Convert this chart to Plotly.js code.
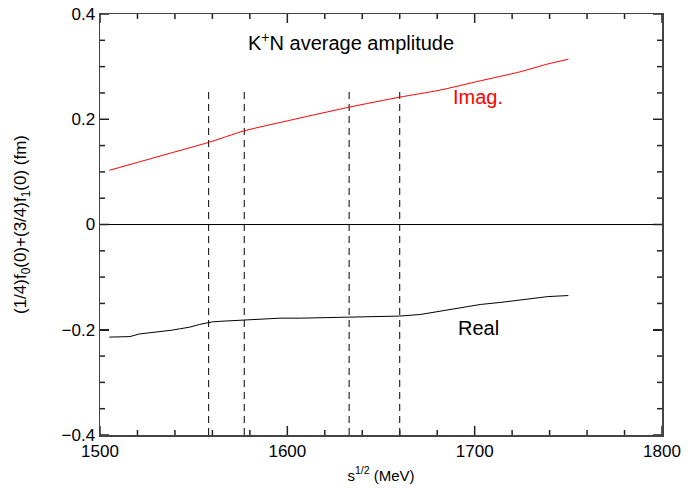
<!DOCTYPE html>
<html><head><meta charset="utf-8">
<script src="https://cdn.plot.ly/plotly-3.0.1.min.js"></script>
<style>html,body{margin:0;padding:0;background:#fff}#chart{width:688px;height:488px}</style>
</head><body><div id="chart"></div>
<script>
var imagX = [1505,1520,1540,1558,1577,1600,1633,1660,1681,1703,1724,1739,1750];
var imagY = [0.103,0.118,0.138,0.156,0.178,0.197,0.223,0.242,0.255,0.273,0.290,0.305,0.314];
var realX = [1505,1511,1516,1521,1527,1532,1538,1543,1548,1553,1556,1558,1560,1564,1570,1577,1585,1596,1607,1617,1625,1633,1641,1650,1660,1671,1681,1692,1703,1714,1724,1732,1739,1750];
var realY = [-0.214,-0.214,-0.213,-0.208,-0.206,-0.203,-0.201,-0.198,-0.195,-0.190,-0.188,-0.187,-0.185,-0.184,-0.183,-0.181,-0.180,-0.178,-0.178,-0.177,-0.177,-0.176,-0.175,-0.174,-0.174,-0.171,-0.165,-0.158,-0.152,-0.148,-0.144,-0.141,-0.137,-0.135];
var dashX = [1558,1577,1633,1660];
var dashTop = 0.253;
var xMin = 1500, xMax = 1800, yMin = -0.4, yMax = 0.4;
var xMajorTicks = [1500,1600,1700,1800];
var xMinorTicks = [1520,1540,1560,1580,1620,1640,1660,1680,1720,1740,1760,1780];
var yMajorTicks = [-0.4,-0.2,0,0.2,0.4];
var yMinorTicks = [-0.35,-0.3,-0.25,-0.15,-0.1,-0.05,0.05,0.1,0.15,0.25,0.3,0.35];

var W = 688, H = 488, M = {l:100, r:26, t:14, b:53};
var pxPerX = (W - M.l - M.r) / (xMax - xMin);
var pxPerY = (H - M.t - M.b) / (yMax - yMin);

var traces = [];
dashX.forEach(function(v){
  traces.push({x:[v,v], y:[yMin,dashTop], mode:'lines', line:{color:'#000', width:1, dash:'7px,5px'}, hoverinfo:'skip', showlegend:false});
});
traces.push({x:imagX, y:imagY, mode:'lines', line:{color:'#ff0000', width:1, shape:'spline', smoothing:0.6}, showlegend:false});
traces.push({x:realX, y:realY, mode:'lines', line:{color:'#000', width:1}, showlegend:false});

// axis tick marks (inside, mirrored), one trace per tick
function addSeg(xs, ys){
  traces.push({x:xs, y:ys, mode:'lines', line:{color:'#222', width:1.5}, hoverinfo:'skip', showlegend:false, cliponaxis:false});
}
function xTick(v, len){
  var d = len / pxPerY;
  addSeg([v, v], [yMin, yMin + d]);
  addSeg([v, v], [yMax, yMax - d]);
}
function yTick(v, len){
  var d = len / pxPerX;
  addSeg([xMin, xMin + d], [v, v]);
  addSeg([xMax, xMax - d], [v, v]);
}
xMajorTicks.forEach(function(v){ xTick(v, 9); });
xMinorTicks.forEach(function(v){ xTick(v, 5); });
yMajorTicks.forEach(function(v){ yTick(v, 9); });
yMinorTicks.forEach(function(v){ yTick(v, 5); });

var font = {family:'Liberation Sans, Arial, sans-serif', color:'#000'};
var layout = {
  width:W, height:H,
  margin:M,
  paper_bgcolor:'#fff', plot_bgcolor:'#fff',
  font:font,
  xaxis:{range:[xMin,xMax], tickmode:'array', tickvals:xMajorTicks, ticks:'inside', ticklen:9, tickwidth:1.5, tickcolor:'#222',
    showline:true, linecolor:'#444', linewidth:1.5, mirror:'ticks', showgrid:false, zeroline:false,
    tickfont:{family:font.family, size:17, color:'#000'},
    title:{text:'s<sup>1/2</sup> (MeV)', font:{family:font.family, size:15, color:'#000'}, standoff:10}},
  yaxis:{range:[yMin,yMax], tickmode:'array', tickvals:yMajorTicks, ticks:'inside', ticklen:9, tickwidth:1.5, tickcolor:'#222',
    showline:true, linecolor:'#444', linewidth:1.5, mirror:'ticks', showgrid:false,
    zeroline:true, zerolinecolor:'#000', zerolinewidth:1,
    tickfont:{family:font.family, size:17, color:'#000'},
    title:{text:'(1/4)f<sub>0</sub>(0)+(3/4)f<sub>1</sub>(0) (fm)', font:{family:font.family, size:17, color:'#000'}, standoff:30}},
  annotations:[
    {x:1634, y:0.348, xref:'x', yref:'y', text:'K<sup>+</sup>N average amplitude', showarrow:false, font:{family:font.family, size:20, color:'#000'}},
    {x:1702, y:0.242, xref:'x', yref:'y', text:'Imag.', showarrow:false, font:{family:font.family, size:20, color:'#ff0000'}},
    {x:1702, y:-0.197, xref:'x', yref:'y', text:'Real', showarrow:false, font:{family:font.family, size:20, color:'#000'}}
  ]
};
Plotly.newPlot('chart', traces, layout, {displayModeBar:false, staticPlot:true});
</script></body></html>
